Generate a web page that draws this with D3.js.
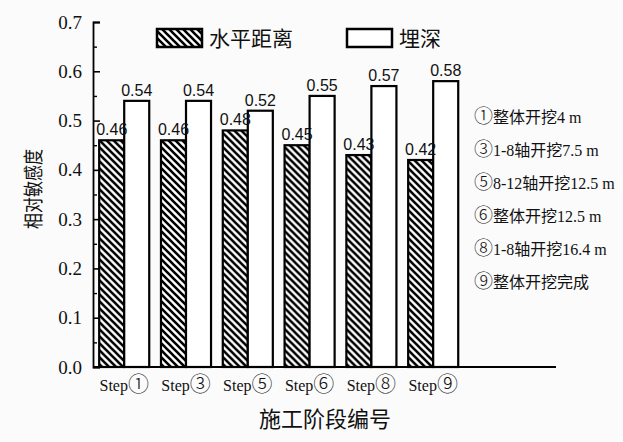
<!DOCTYPE html>
<html>
<head>
<meta charset="utf-8">
<script src="https://cdn.jsdelivr.net/npm/d3@7"></script>
<style>
  body { margin: 0; background: #fbfbfb; }
  svg { display: block; }
</style>
</head>
<body>
<svg id="chart"></svg>
<script>
// data
const steps = ["Step①", "Step③", "Step⑤", "Step⑥", "Step⑧", "Step⑨"];
const horizontal = [0.46, 0.46, 0.48, 0.45, 0.43, 0.42]; // 水平距离
const depth = [0.54, 0.54, 0.52, 0.55, 0.57, 0.58];      // 埋深
const yTicks = [0, 0.1, 0.2, 0.3, 0.4, 0.5, 0.6, 0.7];
const yMinor = [0.05, 0.15, 0.25, 0.35, 0.45, 0.55, 0.65];
const seriesNames = ["水平距离", "埋深"];
const notes = ["①整体开挖4 m", "③1-8轴开挖7.5 m", "⑤8-12轴开挖12.5 m",
               "⑥整体开挖12.5 m", "⑧1-8轴开挖16.4 m", "⑨整体开挖完成"];

const width = 623, height = 442;
const serif = "'Liberation Serif', 'Noto Sans CJK SC', serif";
const cjk = "'Noto Sans CJK SC', sans-serif";
const sans = "'Liberation Sans', Arial, sans-serif";
const circled = "'Noto Sans CJK JP', sans-serif";

const svg = d3.select('#chart')
    .attr('width', width)
    .attr('height', height);

// hatch pattern "\\\\"
const defs = svg.append('defs');
const pat = defs.append('pattern')
    .attr('id', 'hatch')
    .attr('patternUnits', 'userSpaceOnUse')
    .attr('width', 7)
    .attr('height', 7);
pat.append('rect').attr('width', 7).attr('height', 7).attr('fill', '#fff');
pat.append('path')
    .attr('d', 'M-1,-1 L8,8 M-2,5 L2,9 M5,-2 L9,2')
    .attr('stroke', '#000')
    .attr('stroke-width', 2.6);

const y = d3.scaleLinear().domain([0, 0.7]).range([367, 22]);

const x0 = d3.scaleBand()
    .domain(steps)
    .range([93, 464.4])
    .paddingInner(0.19)
    .paddingOuter(0.1);

const x1 = d3.scaleBand()
    .domain(['h', 'd'])
    .range([0, x0.bandwidth()]);

const rows = steps.map((s, i) => ({ step: s, h: horizontal[i], d: depth[i] }));

// bars
const groups = svg.append('g').selectAll('g')
    .data(rows)
    .enter()
    .append('g')
    .attr('transform', d => `translate(${x0(d.step)},0)`);

groups.selectAll('rect')
    .data(d => ['h', 'd'].map(k => ({ key: k, value: d[k] })))
    .enter()
    .append('rect')
    .attr('x', d => x1(d.key))
    .attr('y', d => y(d.value))
    .attr('width', x1.bandwidth())
    .attr('height', d => y(0) - y(d.value))
    .attr('fill', d => d.key === 'h' ? 'url(#hatch)' : '#fff')
    .attr('stroke', '#000')
    .attr('stroke-width', 2.2);

groups.selectAll('text')
    .data(d => ['h', 'd'].map(k => ({ key: k, value: d[k] })))
    .enter()
    .append('text')
    .attr('x', d => x1(d.key) + x1.bandwidth() / 2)
    .attr('y', d => y(d.value) - 5)
    .attr('text-anchor', 'middle')
    .attr('font-family', sans)
    .attr('font-size', 16)
    .attr('fill', '#111')
    .text(d => d.value.toFixed(2));

// y axis
const yAxis = d3.axisLeft(y)
    .tickValues(yTicks)
    .tickSize(-7)
    .tickPadding(11)
    .tickFormat(d3.format('.1f'));

const gy = svg.append('g')
    .attr('transform', 'translate(93,0)')
    .call(yAxis);
gy.select('.domain').attr('stroke-width', 1.8);
gy.selectAll('.tick line').attr('stroke-width', 1.6);
gy.selectAll('text')
    .attr('font-family', serif)
    .attr('font-size', 19)
    .attr('fill', '#111');

const gyMinor = svg.append('g')
    .attr('transform', 'translate(93,0)')
    .call(d3.axisLeft(y).tickValues(yMinor).tickSize(-4).tickFormat(''));
gyMinor.select('.domain').remove();
gyMinor.selectAll('.tick line').attr('stroke-width', 1.4);

// x axis
const gx = svg.append('g')
    .attr('transform', `translate(0,${y(0)})`)
    .call(d3.axisBottom(x0).tickSize(0).tickPadding(13));
gx.select('.domain').remove();
gx.selectAll('text')
    .attr('font-family', serif)
    .attr('font-size', 16)
    .attr('fill', '#111')
    .each(function(d) {
        const t = d3.select(this).text('');
        t.append('tspan').text(d.slice(0, -1));
        t.append('tspan')
            .attr('font-family', circled)
            .attr('font-size', 21)
            .attr('font-weight', 300)
            .text(d.slice(-1));
    });

svg.append('line')
    .attr('x1', 93)
    .attr('x2', 556)
    .attr('y1', y(0))
    .attr('y2', y(0))
    .attr('stroke', '#000')
    .attr('stroke-width', 1.8);

// axis titles
svg.append('text')
    .attr('x', 325)
    .attr('y', 427)
    .attr('text-anchor', 'middle')
    .attr('font-family', cjk)
    .attr('font-size', 22)
    .attr('fill', '#111')
    .text('施工阶段编号');

svg.append('text')
    .attr('transform', 'translate(41,189) rotate(-90) scale(0.8,1)')
    .attr('text-anchor', 'middle')
    .attr('font-family', cjk)
    .attr('font-size', 20)
    .attr('fill', '#111')
    .text('相对敏感度');

// legend
const legend = svg.append('g');
const legendX = [157, 347];
seriesNames.forEach((name, i) => {
    legend.append('rect')
        .attr('x', legendX[i])
        .attr('y', 29)
        .attr('width', 45)
        .attr('height', 18)
        .attr('fill', i === 0 ? 'url(#hatch)' : '#fff')
        .attr('stroke', '#000')
        .attr('stroke-width', 2.5);
    legend.append('text')
        .attr('x', legendX[i] + 52)
        .attr('y', 46)
        .attr('font-family', cjk)
        .attr('font-size', 21)
        .attr('fill', '#111')
        .text(name);
});

// notes
svg.append('g').selectAll('text')
    .data(notes)
    .enter()
    .append('text')
    .attr('x', 474)
    .attr('y', (d, i) => 123 + i * 33)
    .attr('font-family', serif)
    .attr('font-size', 16)
    .attr('fill', '#111')
    .each(function(d) {
        const t = d3.select(this);
        t.append('tspan')
            .attr('font-family', circled)
            .attr('font-size', 19)
            .attr('font-weight', 300)
            .text(d[0]);
        t.append('tspan').text(d.slice(1));
    });
</script>
</body>
</html>
